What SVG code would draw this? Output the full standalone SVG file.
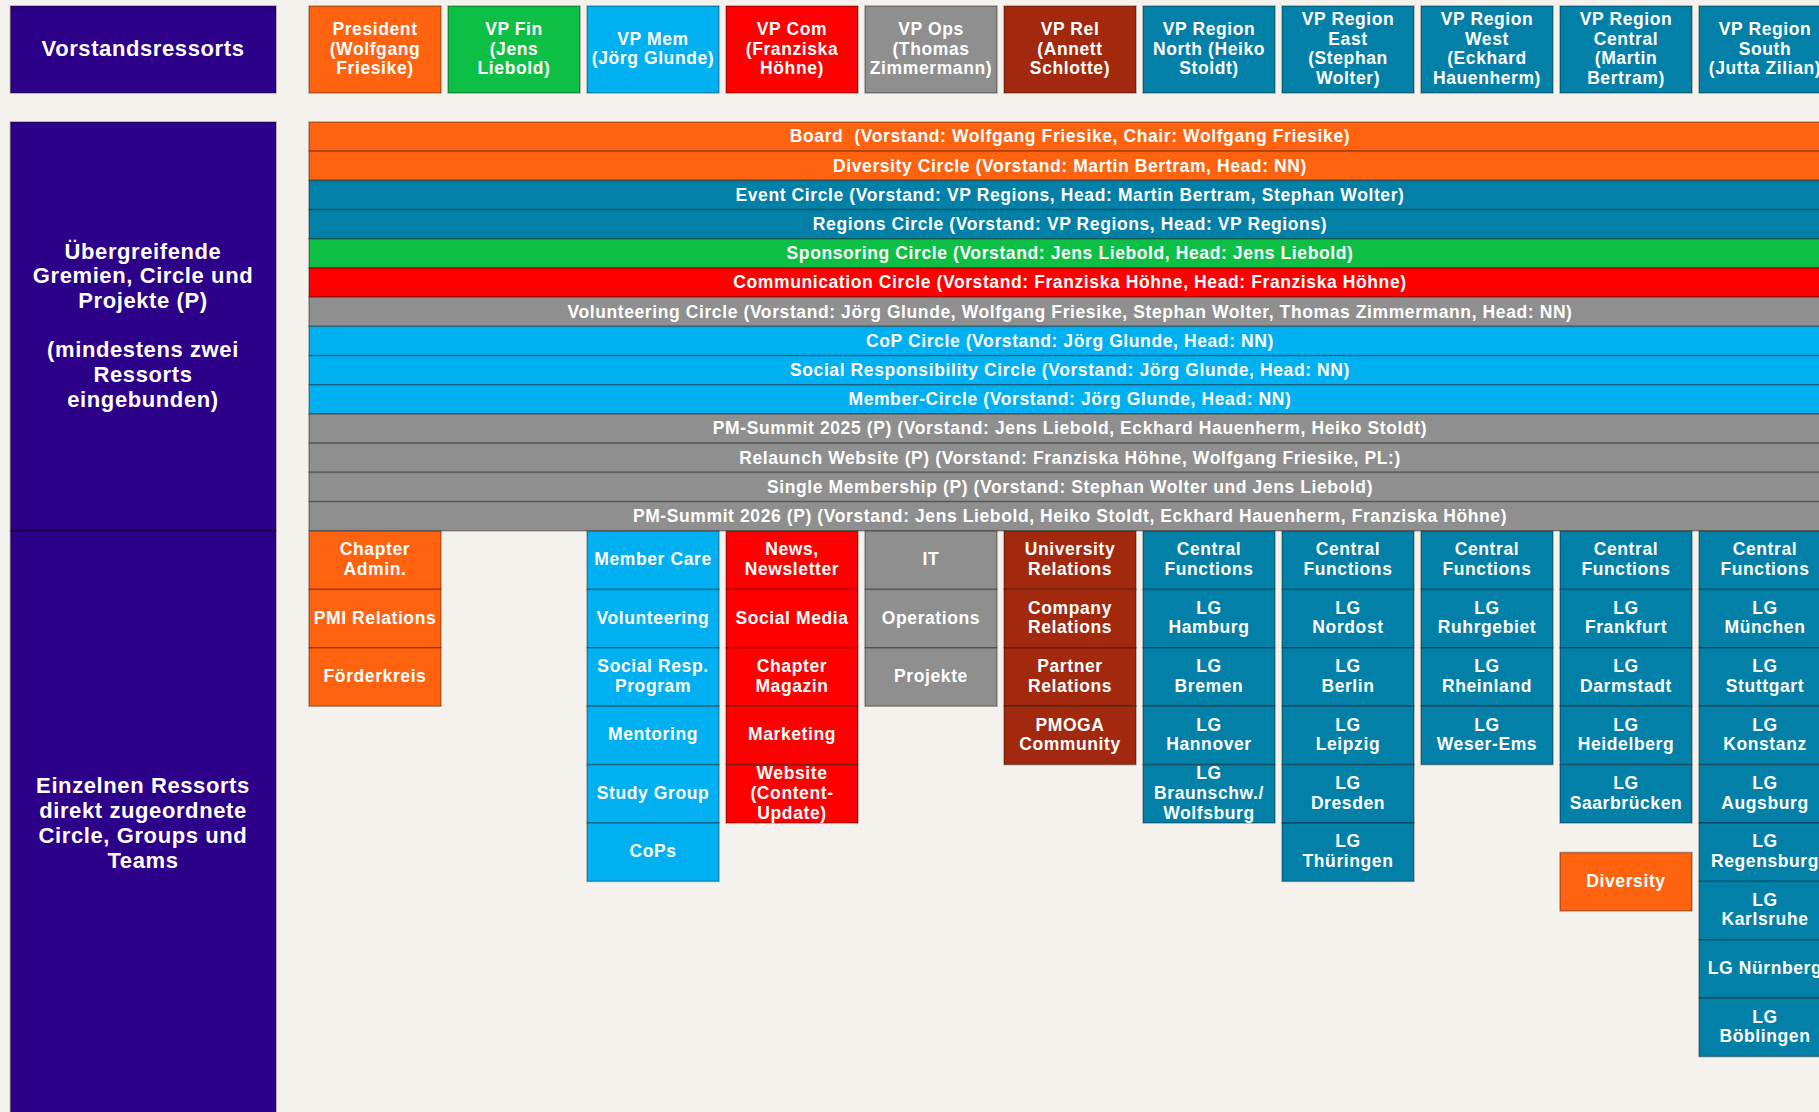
<svg xmlns="http://www.w3.org/2000/svg" width="1819" height="1112" viewBox="0 0 1819 1112">
<style>
.t{font-family:"Liberation Sans",Arial,sans-serif;font-weight:bold;fill:#fff;text-anchor:middle;dominant-baseline:central;font-size:17.5px;letter-spacing:0.6px}
.h{font-size:22px}
.b{stroke:rgba(0,0,0,0.32);stroke-width:1.5}
.or{fill:#FF6310}.gr{fill:#0DBF45}.lb{fill:#00B0F0}.rd{fill:#FF0000}.gy{fill:#8F8F8F}.dr{fill:#A3290E}.tl{fill:#0380A8}.pu{fill:#2C0088}
</style>
<rect width="1819" height="1112" fill="#F5F2ED"/>
<g id="left-titles">
<g id="vorstandsressorts"><rect class="b pu" x="10.5" y="6" width="265.5" height="87" stroke="#777"/><text class="t h" x="143" y="48">Vorstandsressorts</text></g>
<g id="uebergreifende"><rect class="b pu" x="10.5" y="122" width="265.5" height="409"/><text class="t h"><tspan x="143" y="250.6">Übergreifende</tspan><tspan x="143" y="275.3">Gremien, Circle und</tspan><tspan x="143" y="300">Projekte (P)</tspan><tspan x="143" y="349.4">(mindestens zwei</tspan><tspan x="143" y="374.1">Ressorts</tspan><tspan x="143" y="398.8">eingebunden)</tspan></text></g>
<g id="einzelnen"><rect class="b pu" x="10.5" y="531" width="265.5" height="590"/><text class="t h"><tspan x="143" y="785.4">Einzelnen Ressorts</tspan><tspan x="143" y="810.1">direkt zugeordnete</tspan><tspan x="143" y="834.8">Circle, Groups und</tspan><tspan x="143" y="859.5">Teams</tspan></text></g>
</g>
<g id="vorstand">
<g id="president"><rect class="b or" x="309" y="6" width="132" height="87"/><text class="t"><tspan x="375" y="28.8">President</tspan><tspan x="375" y="48.5">(Wolfgang</tspan><tspan x="375" y="68.2">Friesike)</tspan></text></g>
<g id="vp-fin"><rect class="b gr" x="448" y="6" width="132" height="87"/><text class="t"><tspan x="514" y="28.8">VP Fin</tspan><tspan x="514" y="48.5">(Jens</tspan><tspan x="514" y="68.2">Liebold)</tspan></text></g>
<g id="vp-mem"><rect class="b lb" x="587" y="6" width="132" height="87"/><text class="t"><tspan x="653" y="38.6">VP Mem</tspan><tspan x="653" y="58.3">(Jörg Glunde)</tspan></text></g>
<g id="vp-com"><rect class="b rd" x="726" y="6" width="132" height="87"/><text class="t"><tspan x="792" y="28.8">VP Com</tspan><tspan x="792" y="48.5">(Franziska</tspan><tspan x="792" y="68.2">Höhne)</tspan></text></g>
<g id="vp-ops"><rect class="b gy" x="865" y="6" width="132" height="87"/><text class="t"><tspan x="931" y="28.8">VP Ops</tspan><tspan x="931" y="48.5">(Thomas</tspan><tspan x="931" y="68.2">Zimmermann)</tspan></text></g>
<g id="vp-rel"><rect class="b dr" x="1004" y="6" width="132" height="87"/><text class="t"><tspan x="1070" y="28.8">VP Rel</tspan><tspan x="1070" y="48.5">(Annett</tspan><tspan x="1070" y="68.2">Schlotte)</tspan></text></g>
<g id="vp-north"><rect class="b tl" x="1143" y="6" width="132" height="87"/><text class="t"><tspan x="1209" y="28.8">VP Region</tspan><tspan x="1209" y="48.5">North (Heiko</tspan><tspan x="1209" y="68.2">Stoldt)</tspan></text></g>
<g id="vp-east"><rect class="b tl" x="1282" y="6" width="132" height="87"/><text class="t"><tspan x="1348" y="18.8">VP Region</tspan><tspan x="1348" y="38.5">East</tspan><tspan x="1348" y="58.2">(Stephan</tspan><tspan x="1348" y="77.9">Wolter)</tspan></text></g>
<g id="vp-west"><rect class="b tl" x="1421" y="6" width="132" height="87"/><text class="t"><tspan x="1487" y="18.8">VP Region</tspan><tspan x="1487" y="38.5">West</tspan><tspan x="1487" y="58.2">(Eckhard</tspan><tspan x="1487" y="77.9">Hauenherm)</tspan></text></g>
<g id="vp-central"><rect class="b tl" x="1560" y="6" width="132" height="87"/><text class="t"><tspan x="1626" y="18.8">VP Region</tspan><tspan x="1626" y="38.5">Central</tspan><tspan x="1626" y="58.2">(Martin</tspan><tspan x="1626" y="77.9">Bertram)</tspan></text></g>
<g id="vp-south"><rect class="b tl" x="1699" y="6" width="132" height="87"/><text class="t"><tspan x="1765" y="28.8">VP Region</tspan><tspan x="1765" y="48.5">South</tspan><tspan x="1765" y="68.2">(Jutta Zilian)</tspan></text></g>
</g>
<g id="circles">
<g id="bar-board"><rect class="b or" x="309" y="122" width="1522" height="29.2"/><text class="t" x="1070" y="136.3">Board&#160; (Vorstand: Wolfgang Friesike, Chair: Wolfgang Friesike)</text></g>
<g id="bar-diversity"><rect class="b or" x="309" y="151.2" width="1522" height="29.2"/><text class="t" x="1070" y="165.5">Diversity Circle (Vorstand: Martin Bertram, Head: NN)</text></g>
<g id="bar-event"><rect class="b tl" x="309" y="180.4" width="1522" height="29.2"/><text class="t" x="1070" y="194.7">Event Circle (Vorstand: VP Regions, Head: Martin Bertram, Stephan Wolter)</text></g>
<g id="bar-regions"><rect class="b tl" x="309" y="209.6" width="1522" height="29.2"/><text class="t" x="1070" y="223.9">Regions Circle (Vorstand: VP Regions, Head: VP Regions)</text></g>
<g id="bar-sponsoring"><rect class="b gr" x="309" y="238.8" width="1522" height="29.2"/><text class="t" x="1070" y="253.1">Sponsoring Circle (Vorstand: Jens Liebold, Head: Jens Liebold)</text></g>
<g id="bar-communication"><rect class="b rd" x="309" y="268" width="1522" height="29.2"/><text class="t" x="1070" y="282.3">Communication Circle (Vorstand: Franziska Höhne, Head: Franziska Höhne)</text></g>
<g id="bar-volunteering"><rect class="b gy" x="309" y="297.2" width="1522" height="29.2"/><text class="t" x="1070" y="311.5">Volunteering Circle (Vorstand: Jörg Glunde, Wolfgang Friesike, Stephan Wolter, Thomas Zimmermann, Head: NN)</text></g>
<g id="bar-cop"><rect class="b lb" x="309" y="326.4" width="1522" height="29.2"/><text class="t" x="1070" y="340.7">CoP Circle (Vorstand: Jörg Glunde, Head: NN)</text></g>
<g id="bar-social"><rect class="b lb" x="309" y="355.6" width="1522" height="29.2"/><text class="t" x="1070" y="369.9">Social Responsibility Circle (Vorstand: Jörg Glunde, Head: NN)</text></g>
<g id="bar-member"><rect class="b lb" x="309" y="384.8" width="1522" height="29.2"/><text class="t" x="1070" y="399.1">Member-Circle (Vorstand: Jörg Glunde, Head: NN)</text></g>
<g id="bar-pms2025"><rect class="b gy" x="309" y="414" width="1522" height="29.2"/><text class="t" x="1070" y="428.3">PM-Summit 2025 (P) (Vorstand: Jens Liebold, Eckhard Hauenherm, Heiko Stoldt)</text></g>
<g id="bar-relaunch"><rect class="b gy" x="309" y="443.2" width="1522" height="29.2"/><text class="t" x="1070" y="457.5">Relaunch Website (P) (Vorstand: Franziska Höhne, Wolfgang Friesike, PL:)</text></g>
<g id="bar-single"><rect class="b gy" x="309" y="472.4" width="1522" height="29.2"/><text class="t" x="1070" y="486.7">Single Membership (P) (Vorstand: Stephan Wolter und Jens Liebold)</text></g>
<g id="bar-pms2026"><rect class="b gy" x="309" y="501.6" width="1522" height="29.2"/><text class="t" x="1070" y="515.9">PM-Summit 2026 (P) (Vorstand: Jens Liebold, Heiko Stoldt, Eckhard Hauenherm, Franziska Höhne)</text></g>
</g>
<g id="teams">
<g id="chapter-admin"><rect class="b or" x="309" y="531" width="132" height="58.4"/><text class="t"><tspan x="375" y="549.4">Chapter</tspan><tspan x="375" y="569">Admin.</tspan></text></g>
<g id="pmi-relations"><rect class="b or" x="309" y="589.4" width="132" height="58.4"/><text class="t" x="375" y="617.6">PMI Relations</text></g>
<g id="foerderkreis"><rect class="b or" x="309" y="647.8" width="132" height="58.4"/><text class="t" x="375" y="676">Förderkreis</text></g>

<g id="member-care"><rect class="b lb" x="587" y="531" width="132" height="58.4"/><text class="t" x="653" y="559.2">Member Care</text></g>
<g id="volunteering"><rect class="b lb" x="587" y="589.4" width="132" height="58.4"/><text class="t" x="653" y="617.6">Volunteering</text></g>
<g id="social-resp"><rect class="b lb" x="587" y="647.8" width="132" height="58.4"/><text class="t"><tspan x="653" y="666.2">Social Resp.</tspan><tspan x="653" y="685.8">Program</tspan></text></g>
<g id="mentoring"><rect class="b lb" x="587" y="706.2" width="132" height="58.4"/><text class="t" x="653" y="734.4">Mentoring</text></g>
<g id="study-group"><rect class="b lb" x="587" y="764.6" width="132" height="58.4"/><text class="t" x="653" y="792.8">Study Group</text></g>
<g id="cops"><rect class="b lb" x="587" y="823" width="132" height="58.4"/><text class="t" x="653" y="851.2">CoPs</text></g>

<g id="news"><rect class="b rd" x="726" y="531" width="132" height="58.4"/><text class="t"><tspan x="792" y="549.4">News,</tspan><tspan x="792" y="569">Newsletter</tspan></text></g>
<g id="social-media"><rect class="b rd" x="726" y="589.4" width="132" height="58.4"/><text class="t" x="792" y="617.6">Social Media</text></g>
<g id="chapter-magazin"><rect class="b rd" x="726" y="647.8" width="132" height="58.4"/><text class="t"><tspan x="792" y="666.2">Chapter</tspan><tspan x="792" y="685.8">Magazin</tspan></text></g>
<g id="marketing"><rect class="b rd" x="726" y="706.2" width="132" height="58.4"/><text class="t" x="792" y="734.4">Marketing</text></g>
<g id="website"><rect class="b rd" x="726" y="764.6" width="132" height="58.4"/><text class="t"><tspan x="792" y="773.1">Website</tspan><tspan x="792" y="792.8">(Content-</tspan><tspan x="792" y="812.5">Update)</tspan></text></g>

<g id="it"><rect class="b gy" x="865" y="531" width="132" height="58.4"/><text class="t" x="931" y="559.2">IT</text></g>
<g id="operations"><rect class="b gy" x="865" y="589.4" width="132" height="58.4"/><text class="t" x="931" y="617.6">Operations</text></g>
<g id="projekte"><rect class="b gy" x="865" y="647.8" width="132" height="58.4"/><text class="t" x="931" y="676">Projekte</text></g>

<g id="university"><rect class="b dr" x="1004" y="531" width="132" height="58.4"/><text class="t"><tspan x="1070" y="549.4">University</tspan><tspan x="1070" y="569">Relations</tspan></text></g>
<g id="company"><rect class="b dr" x="1004" y="589.4" width="132" height="58.4"/><text class="t"><tspan x="1070" y="607.8">Company</tspan><tspan x="1070" y="627.4">Relations</tspan></text></g>
<g id="partner"><rect class="b dr" x="1004" y="647.8" width="132" height="58.4"/><text class="t"><tspan x="1070" y="666.2">Partner</tspan><tspan x="1070" y="685.8">Relations</tspan></text></g>
<g id="pmoga"><rect class="b dr" x="1004" y="706.2" width="132" height="58.4"/><text class="t"><tspan x="1070" y="724.6">PMOGA</tspan><tspan x="1070" y="744.2">Community</tspan></text></g>

<g id="north-cf"><rect class="b tl" x="1143" y="531" width="132" height="58.4"/><text class="t"><tspan x="1209" y="549.4">Central</tspan><tspan x="1209" y="569">Functions</tspan></text></g>
<g id="lg-hamburg"><rect class="b tl" x="1143" y="589.4" width="132" height="58.4"/><text class="t"><tspan x="1209" y="607.8">LG</tspan><tspan x="1209" y="627.4">Hamburg</tspan></text></g>
<g id="lg-bremen"><rect class="b tl" x="1143" y="647.8" width="132" height="58.4"/><text class="t"><tspan x="1209" y="666.2">LG</tspan><tspan x="1209" y="685.8">Bremen</tspan></text></g>
<g id="lg-hannover"><rect class="b tl" x="1143" y="706.2" width="132" height="58.4"/><text class="t"><tspan x="1209" y="724.6">LG</tspan><tspan x="1209" y="744.2">Hannover</tspan></text></g>
<g id="lg-braunschweig"><rect class="b tl" x="1143" y="764.6" width="132" height="58.4"/><text class="t"><tspan x="1209" y="773.1">LG</tspan><tspan x="1209" y="792.8">Braunschw./</tspan><tspan x="1209" y="812.5">Wolfsburg</tspan></text></g>

<g id="east-cf"><rect class="b tl" x="1282" y="531" width="132" height="58.4"/><text class="t"><tspan x="1348" y="549.4">Central</tspan><tspan x="1348" y="569">Functions</tspan></text></g>
<g id="lg-nordost"><rect class="b tl" x="1282" y="589.4" width="132" height="58.4"/><text class="t"><tspan x="1348" y="607.8">LG</tspan><tspan x="1348" y="627.4">Nordost</tspan></text></g>
<g id="lg-berlin"><rect class="b tl" x="1282" y="647.8" width="132" height="58.4"/><text class="t"><tspan x="1348" y="666.2">LG</tspan><tspan x="1348" y="685.8">Berlin</tspan></text></g>
<g id="lg-leipzig"><rect class="b tl" x="1282" y="706.2" width="132" height="58.4"/><text class="t"><tspan x="1348" y="724.6">LG</tspan><tspan x="1348" y="744.2">Leipzig</tspan></text></g>
<g id="lg-dresden"><rect class="b tl" x="1282" y="764.6" width="132" height="58.4"/><text class="t"><tspan x="1348" y="783">LG</tspan><tspan x="1348" y="802.6">Dresden</tspan></text></g>
<g id="lg-thueringen"><rect class="b tl" x="1282" y="823" width="132" height="58.4"/><text class="t"><tspan x="1348" y="841.4">LG</tspan><tspan x="1348" y="861">Thüringen</tspan></text></g>

<g id="west-cf"><rect class="b tl" x="1421" y="531" width="132" height="58.4"/><text class="t"><tspan x="1487" y="549.4">Central</tspan><tspan x="1487" y="569">Functions</tspan></text></g>
<g id="lg-ruhrgebiet"><rect class="b tl" x="1421" y="589.4" width="132" height="58.4"/><text class="t"><tspan x="1487" y="607.8">LG</tspan><tspan x="1487" y="627.4">Ruhrgebiet</tspan></text></g>
<g id="lg-rheinland"><rect class="b tl" x="1421" y="647.8" width="132" height="58.4"/><text class="t"><tspan x="1487" y="666.2">LG</tspan><tspan x="1487" y="685.8">Rheinland</tspan></text></g>
<g id="lg-weser-ems"><rect class="b tl" x="1421" y="706.2" width="132" height="58.4"/><text class="t"><tspan x="1487" y="724.6">LG</tspan><tspan x="1487" y="744.2">Weser-Ems</tspan></text></g>

<g id="central-cf"><rect class="b tl" x="1560" y="531" width="132" height="58.4"/><text class="t"><tspan x="1626" y="549.4">Central</tspan><tspan x="1626" y="569">Functions</tspan></text></g>
<g id="lg-frankfurt"><rect class="b tl" x="1560" y="589.4" width="132" height="58.4"/><text class="t"><tspan x="1626" y="607.8">LG</tspan><tspan x="1626" y="627.4">Frankfurt</tspan></text></g>
<g id="lg-darmstadt"><rect class="b tl" x="1560" y="647.8" width="132" height="58.4"/><text class="t"><tspan x="1626" y="666.2">LG</tspan><tspan x="1626" y="685.8">Darmstadt</tspan></text></g>
<g id="lg-heidelberg"><rect class="b tl" x="1560" y="706.2" width="132" height="58.4"/><text class="t"><tspan x="1626" y="724.6">LG</tspan><tspan x="1626" y="744.2">Heidelberg</tspan></text></g>
<g id="lg-saarbruecken"><rect class="b tl" x="1560" y="764.6" width="132" height="58.4"/><text class="t"><tspan x="1626" y="783">LG</tspan><tspan x="1626" y="802.6">Saarbrücken</tspan></text></g>
<g id="diversity"><rect class="b or" x="1560" y="852.5" width="132" height="58.4" stroke="#888"/><text class="t" x="1626" y="880.7">Diversity</text></g>

<g id="south-cf"><rect class="b tl" x="1699" y="531" width="132" height="58.4"/><text class="t"><tspan x="1765" y="549.4">Central</tspan><tspan x="1765" y="569">Functions</tspan></text></g>
<g id="lg-muenchen"><rect class="b tl" x="1699" y="589.4" width="132" height="58.4"/><text class="t"><tspan x="1765" y="607.8">LG</tspan><tspan x="1765" y="627.4">München</tspan></text></g>
<g id="lg-stuttgart"><rect class="b tl" x="1699" y="647.8" width="132" height="58.4"/><text class="t"><tspan x="1765" y="666.2">LG</tspan><tspan x="1765" y="685.8">Stuttgart</tspan></text></g>
<g id="lg-konstanz"><rect class="b tl" x="1699" y="706.2" width="132" height="58.4"/><text class="t"><tspan x="1765" y="724.6">LG</tspan><tspan x="1765" y="744.2">Konstanz</tspan></text></g>
<g id="lg-augsburg"><rect class="b tl" x="1699" y="764.6" width="132" height="58.4"/><text class="t"><tspan x="1765" y="783">LG</tspan><tspan x="1765" y="802.6">Augsburg</tspan></text></g>
<g id="lg-regensburg"><rect class="b tl" x="1699" y="823" width="132" height="58.4"/><text class="t"><tspan x="1765" y="841.4">LG</tspan><tspan x="1765" y="861">Regensburg</tspan></text></g>
<g id="lg-karlsruhe"><rect class="b tl" x="1699" y="881.4" width="132" height="58.4"/><text class="t"><tspan x="1765" y="899.8">LG</tspan><tspan x="1765" y="919.4">Karlsruhe</tspan></text></g>
<g id="lg-nuernberg"><rect class="b tl" x="1699" y="939.8" width="132" height="58.4"/><text class="t" x="1765" y="968">LG Nürnberg</text></g>
<g id="lg-boeblingen"><rect class="b tl" x="1699" y="998.2" width="132" height="58.4"/><text class="t"><tspan x="1765" y="1016.6">LG</tspan><tspan x="1765" y="1036.2">Böblingen</tspan></text></g>
</g>
<g id="connectors"/>
</svg>
